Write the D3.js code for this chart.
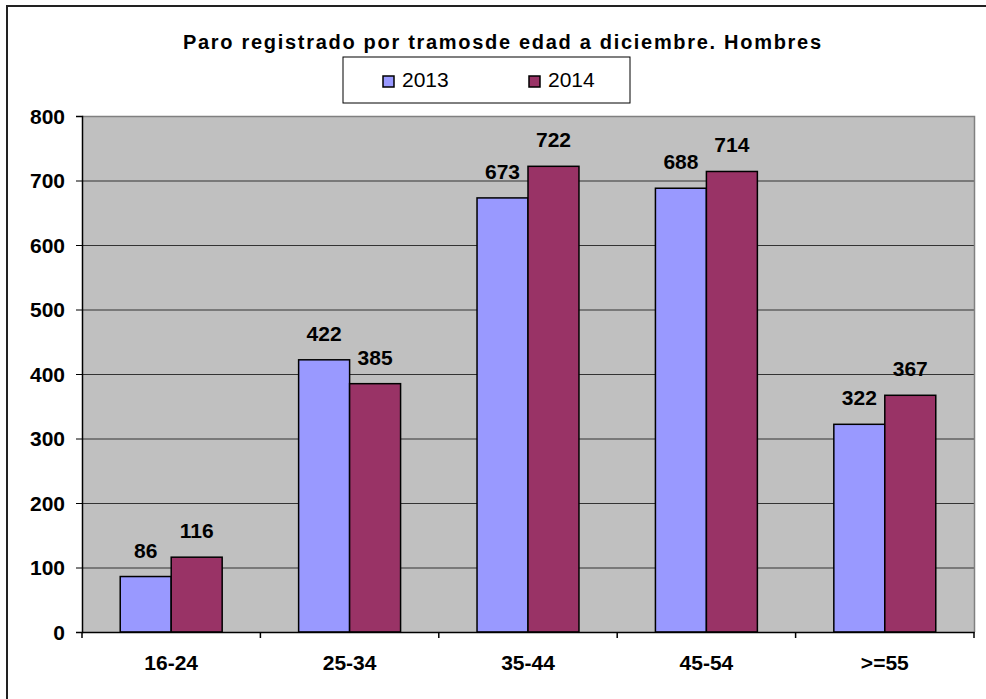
<!DOCTYPE html>
<html lang="es">
<head>
  <meta charset="UTF-8">
  <title>Paro registrado por tramos de edad - Hombres</title>
  <style>
    body, html {
      margin: 0;
      padding: 0;
      background: #fff;
      font-family: Arial, "Liberation Sans", sans-serif;
    }
  </style>
</head>
<body>
  <svg id="svg" width="986" height="699"></svg>

  <script src="https://cdn.jsdelivr.net/npm/d3@7"></script>
  <script>
    const categories = ['16-24', '25-34', '35-44', '45-54', '>=55'];
    const seriesNames = ['2013', '2014'];
    const values2013 = [86, 422, 673, 688, 322];
    const values2014 = [116, 385, 722, 714, 367];
    const yTicks = [0, 100, 200, 300, 400, 500, 600, 700, 800];
    const colors = ['#9999FF', '#993366'];

    const svg = d3.select('#svg');
    const plot = { left: 82, right: 974, top: 116, bottom: 632 };

    const data = categories.map((c, i) => ({
      cat: c,
      vals: [
        { name: seriesNames[0], value: values2013[i] },
        { name: seriesNames[1], value: values2014[i] }
      ]
    }));

    // outer chart border (only top/left visible)
    svg.append('rect')
      .attr('x', 7).attr('y', 6)
      .attr('width', 1100).attr('height', 1100)
      .attr('fill', 'none')
      .attr('stroke', '#222')
      .attr('stroke-width', 2);

    const x0 = d3.scaleBand()
      .domain(categories)
      .range([plot.left, plot.right])
      .padding(0);

    const x1 = d3.scaleBand()
      .domain(seriesNames)
      .range([0, x0.bandwidth()])
      .paddingInner(0)
      .paddingOuter(0.75);

    const y = d3.scaleLinear()
      .domain([0, 800])
      .range([plot.bottom, plot.top]);

    // plot background
    svg.append('rect')
      .attr('x', plot.left).attr('y', plot.top)
      .attr('width', plot.right - plot.left)
      .attr('height', plot.bottom - plot.top)
      .attr('fill', '#C0C0C0');

    // gridlines
    svg.append('g')
      .selectAll('line')
      .data(yTicks.filter(d => d > 0 && d < 800))
      .enter()
      .append('line')
      .attr('x1', plot.left).attr('x2', plot.right)
      .attr('y1', d => y(d) + 0.5).attr('y2', d => y(d) + 0.5)
      .attr('stroke', '#333')
      .attr('stroke-width', 1);

    // top and right border of the plot area
    svg.append('path')
      .attr('d', `M${plot.left},${plot.top + 0.5}H${plot.right + 0.5}V${plot.bottom}`)
      .attr('fill', 'none')
      .attr('stroke', '#808080')
      .attr('stroke-width', 1.5);

    // bars
    const groups = svg.append('g')
      .selectAll('g')
      .data(data)
      .enter()
      .append('g')
      .attr('transform', d => `translate(${x0(d.cat)},0)`);

    groups.selectAll('rect')
      .data(d => d.vals)
      .enter()
      .append('rect')
      .attr('x', d => x1(d.name))
      .attr('y', d => y(d.value))
      .attr('width', x1.bandwidth())
      .attr('height', d => y(0) - y(d.value))
      .attr('fill', (d, i) => colors[i])
      .attr('stroke', '#000')
      .attr('stroke-width', 1.5);

    // data labels
    groups.selectAll('text')
      .data(d => d.vals)
      .enter()
      .append('text')
      .attr('x', d => x1(d.name) + x1.bandwidth() / 2)
      .attr('y', d => y(d.value) - 19)
      .attr('text-anchor', 'middle')
      .style('font-size', '21px')
      .style('font-weight', 'bold')
      .text(d => d.value);

    // Y axis
    const yAxis = svg.append('g')
      .attr('transform', `translate(${plot.left},0)`)
      .call(d3.axisLeft(y).tickValues(yTicks).tickSize(6).tickPadding(11));
    yAxis.select('.domain').attr('stroke', '#000').attr('stroke-width', 1.5);
    yAxis.selectAll('.tick line').attr('stroke', '#000');
    yAxis.selectAll('.tick text')
      .attr('dy', '0.35em')
      .style('font-family', 'Arial, "Liberation Sans", sans-serif')
      .style('font-size', '21px')
      .style('font-weight', 'bold')
      .attr('fill', '#000');

    // X axis
    const xAxis = svg.append('g')
      .attr('transform', `translate(0,${plot.bottom})`)
      .call(d3.axisBottom(x0).tickSize(0).tickPadding(0));
    xAxis.select('.domain').attr('stroke', '#000').attr('stroke-width', 1.5);
    xAxis.selectAll('.tick text')
      .attr('y', 38)
      .attr('dy', 0)
      .style('font-family', 'Arial, "Liberation Sans", sans-serif')
      .style('font-size', '21px')
      .style('font-weight', 'bold')
      .attr('fill', '#000');

    // category separator ticks
    const boundaries = categories.map(c => x0(c)).concat([x0.range()[1]]);
    xAxis.append('g')
      .selectAll('line')
      .data(boundaries)
      .enter()
      .append('line')
      .attr('x1', d => d).attr('x2', d => d)
      .attr('y1', 0).attr('y2', 6)
      .attr('stroke', '#000')
      .attr('stroke-width', 1.5);

    // title
    svg.append('text')
      .attr('x', 502)
      .attr('y', 49)
      .attr('text-anchor', 'middle')
      .attr('textLength', 638)
      .attr('lengthAdjust', 'spacing')
      .style('font-size', '20px')
      .style('font-weight', 'bold')
      .text('Paro registrado por tramosde edad a diciembre. Hombres');

    // legend
    const legend = svg.append('g');
    legend.append('rect')
      .attr('x', 343).attr('y', 57)
      .attr('width', 287).attr('height', 46)
      .attr('fill', '#fff')
      .attr('stroke', '#000')
      .attr('stroke-width', 1);

    const legendX = [383, 529];
    seriesNames.forEach((name, i) => {
      legend.append('rect')
        .attr('x', legendX[i]).attr('y', 76)
        .attr('width', 11).attr('height', 11)
        .attr('fill', colors[i])
        .attr('stroke', '#000')
        .attr('stroke-width', 1.5);
      legend.append('text')
        .attr('x', legendX[i] + 19)
        .attr('y', 87)
        .style('font-size', '21px')
        .text(name);
    });
  </script>
</body>
</html>
